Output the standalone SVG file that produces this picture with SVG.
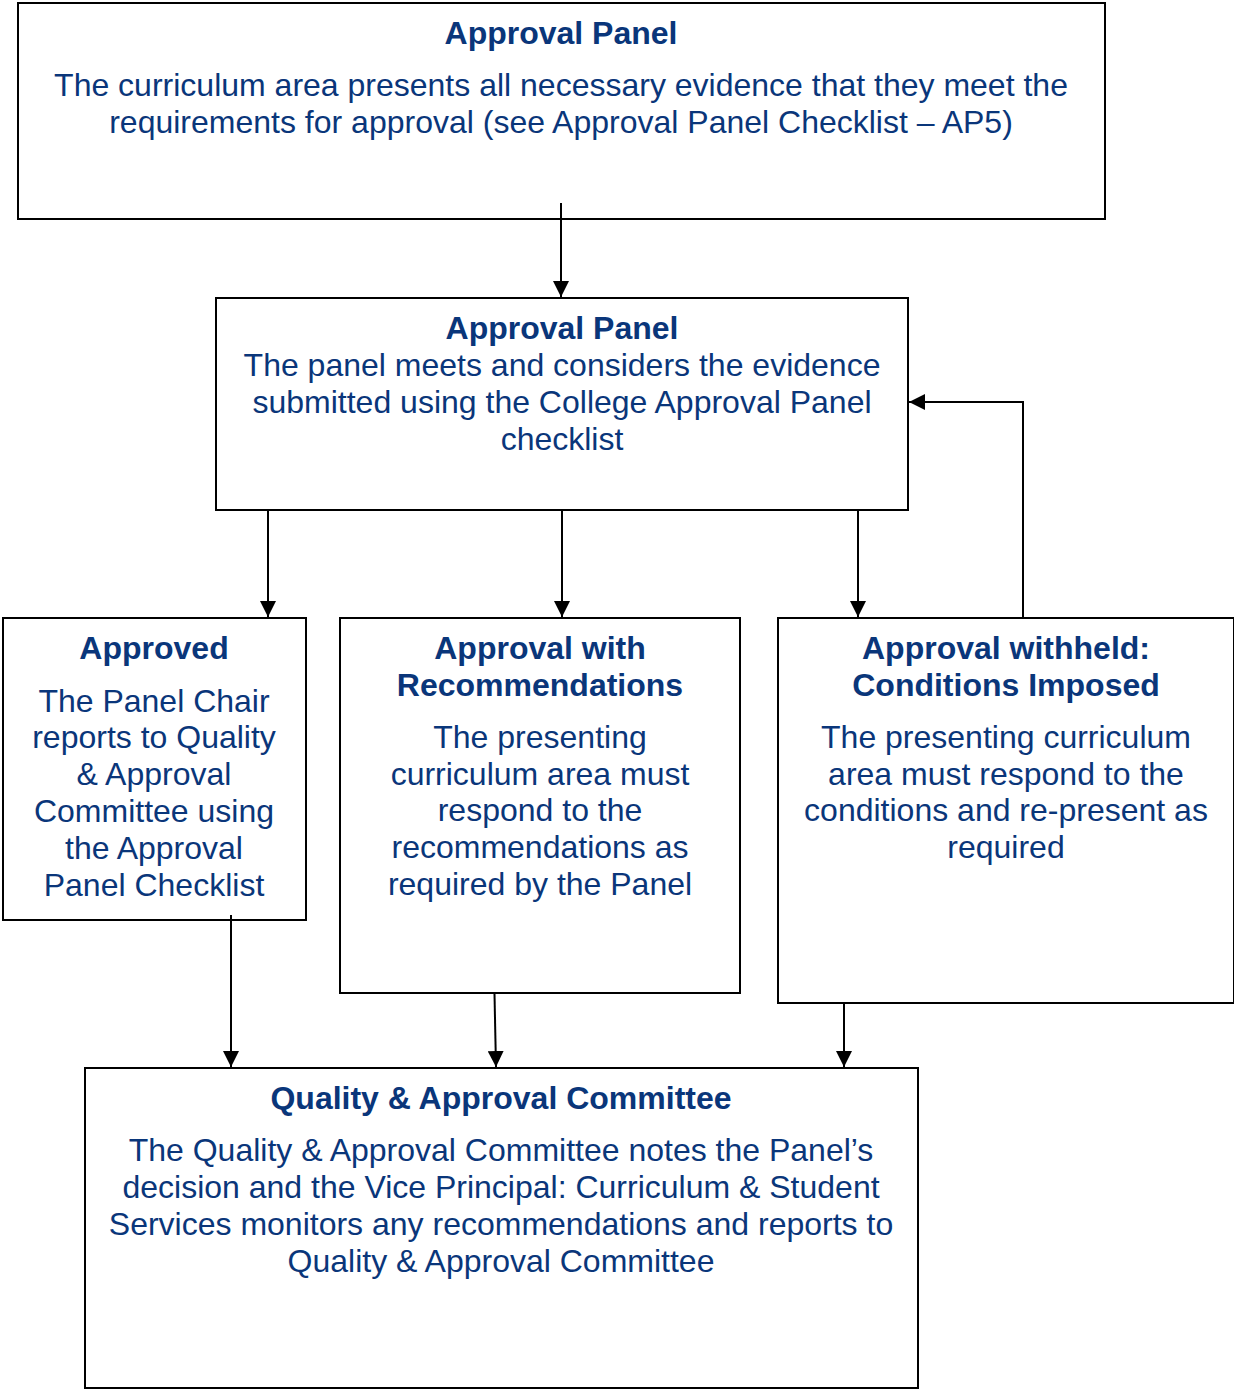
<svg xmlns="http://www.w3.org/2000/svg" width="1234" height="1390" viewBox="0 0 1234 1390">
<defs>
<marker id="ah" viewBox="0 0 10 10" refX="10" refY="5" markerWidth="16" markerHeight="16" markerUnits="userSpaceOnUse" orient="auto">
<path d="M0,0 L10,5 L0,10 z" fill="#000"/>
</marker>
</defs>
<style>
.box{fill:#fff;stroke:#000;stroke-width:2}
.t{font-family:"Liberation Sans",Arial,sans-serif;font-size:32px;fill:#0a367a;text-anchor:middle}
.b{font-weight:bold}
.c{fill:none;stroke:#000;stroke-width:2;marker-end:url(#ah)}
</style>
<rect width="1234" height="1390" fill="#fff"/>
<g id="n1">
<rect class="box" x="18" y="3" width="1087" height="216"/>
<text class="t b" x="561" y="44">Approval Panel</text>
<text class="t" x="561" y="96">The curriculum area presents all necessary evidence that they meet the</text>
<text class="t" x="561" y="133">requirements for approval (see Approval Panel Checklist – AP5)</text>
</g>
<g id="n2">
<rect class="box" x="216" y="298" width="692" height="212"/>
<text class="t b" x="562" y="339">Approval Panel</text>
<text class="t" x="562" y="376">The panel meets and considers the evidence</text>
<text class="t" x="562" y="413">submitted using the College Approval Panel</text>
<text class="t" x="562" y="450">checklist</text>
</g>
<g id="n3">
<rect class="box" x="3" y="618" width="303" height="302"/>
<text class="t b" x="154" y="659">Approved</text>
<text class="t" x="154" y="712">The Panel Chair</text>
<text class="t" x="154" y="748">reports to Quality</text>
<text class="t" x="154" y="785">&amp; Approval</text>
<text class="t" x="154" y="822">Committee using</text>
<text class="t" x="154" y="859">the Approval</text>
<text class="t" x="154" y="896">Panel Checklist</text>
</g>
<g id="n4">
<rect class="box" x="340" y="618" width="400" height="375"/>
<text class="t b" x="540" y="659">Approval with</text>
<text class="t b" x="540" y="696">Recommendations</text>
<text class="t" x="540" y="748">The presenting</text>
<text class="t" x="540" y="785">curriculum area must</text>
<text class="t" x="540" y="821">respond to the</text>
<text class="t" x="540" y="858">recommendations as</text>
<text class="t" x="540" y="895">required by the Panel</text>
</g>
<g id="n5">
<rect class="box" x="778" y="618" width="456" height="385"/>
<text class="t b" x="1006" y="659">Approval withheld:</text>
<text class="t b" x="1006" y="696">Conditions Imposed</text>
<text class="t" x="1006" y="748">The presenting curriculum</text>
<text class="t" x="1006" y="785">area must respond to the</text>
<text class="t" x="1006" y="821">conditions and re-present as</text>
<text class="t" x="1006" y="858">required</text>
</g>
<g id="n6">
<rect class="box" x="85" y="1068" width="833" height="320"/>
<text class="t b" x="501" y="1109">Quality &amp; Approval Committee</text>
<text class="t" x="501" y="1161">The Quality &amp; Approval Committee notes the Panel’s</text>
<text class="t" x="501" y="1198">decision and the Vice Principal: Curriculum &amp; Student</text>
<text class="t" x="501" y="1235">Services monitors any recommendations and reports to</text>
<text class="t" x="501" y="1272">Quality &amp; Approval Committee</text>
</g>
<g id="connectors">
<path class="c" d="M561,203 V297"/>
<path class="c" d="M268,511 V617"/>
<path class="c" d="M562,511 V617"/>
<path class="c" d="M858,511 V617"/>
<path class="c" d="M1023,617 V402 H909"/>
<path class="c" d="M231,915 V1067"/>
<path class="c" d="M494.5,994 L496,1067"/>
<path class="c" d="M844,1004 V1067"/>
</g>
</svg>
